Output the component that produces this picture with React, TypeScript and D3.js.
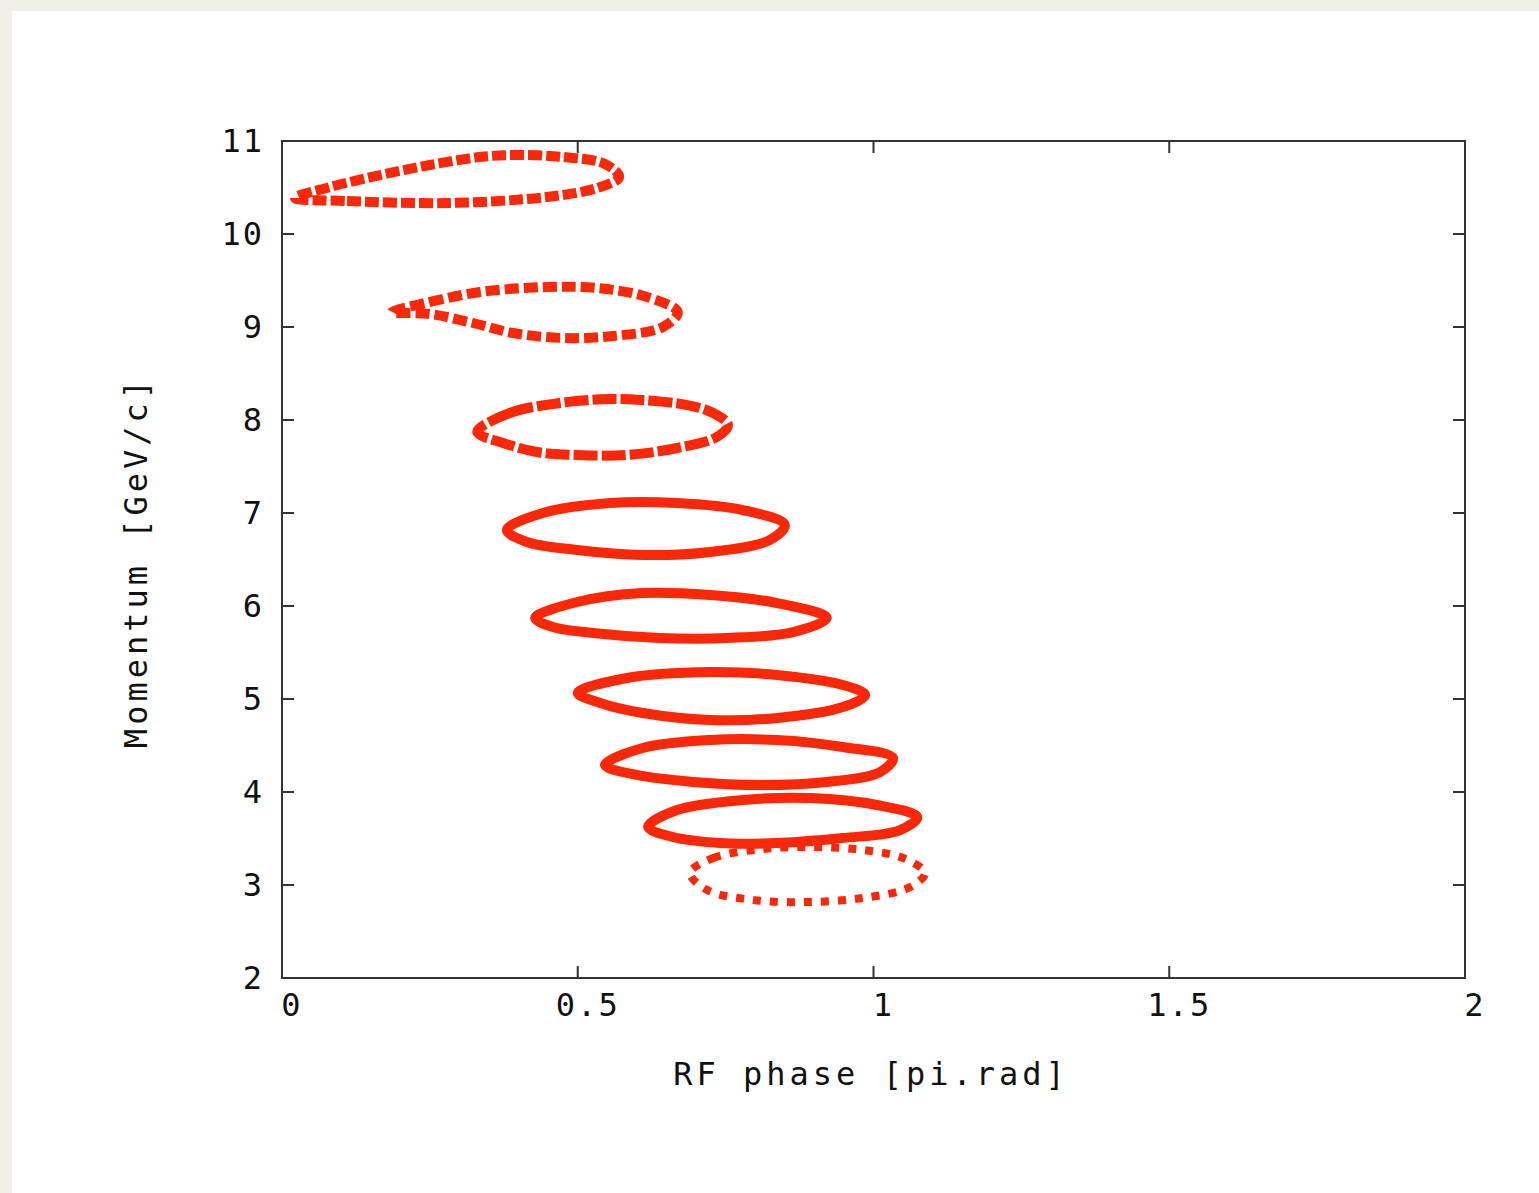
import React from "react";
import * as d3 from "d3";

// Longitudinal phase-space contours: [RF phase (pi.rad), momentum (GeV/c)]
const ring1: [number, number][] = [
  [0.022, 10.387], [0.110, 10.355], [0.279, 10.333], [0.448, 10.398], [0.533, 10.495],
  [0.570, 10.613], [0.546, 10.753], [0.475, 10.828], [0.391, 10.849], [0.335, 10.828],
  [0.250, 10.742], [0.166, 10.634], [0.081, 10.505],
];
const ring2: [number, number][] = [
  [0.186, 9.161], [0.250, 9.269], [0.335, 9.376], [0.448, 9.430], [0.533, 9.419],
  [0.617, 9.323], [0.669, 9.161], [0.644, 9.000], [0.560, 8.903], [0.475, 8.882],
  [0.391, 8.935], [0.323, 9.043], [0.250, 9.140],
];
const ring3: [number, number][] = [
  [0.330, 7.871], [0.385, 8.075], [0.470, 8.183], [0.555, 8.226], [0.610, 8.215],
  [0.685, 8.161], [0.729, 8.075], [0.754, 7.946], [0.735, 7.817], [0.668, 7.699],
  [0.583, 7.624], [0.499, 7.624], [0.431, 7.656], [0.374, 7.753],
];
const ring4: [number, number][] = [
  [0.380, 6.817], [0.441, 7.000], [0.555, 7.108], [0.668, 7.108], [0.779, 7.032],
  [0.850, 6.871], [0.825, 6.710], [0.724, 6.581], [0.610, 6.548], [0.499, 6.602],
  [0.414, 6.688],
];
const ring5: [number, number][] = [
  [0.428, 5.871], [0.499, 6.043], [0.610, 6.140], [0.724, 6.118], [0.837, 6.032],
  [0.921, 5.871], [0.864, 5.720], [0.752, 5.656], [0.639, 5.656], [0.526, 5.710],
  [0.458, 5.774],
];
const ring6: [number, number][] = [
  [0.500, 5.065], [0.583, 5.226], [0.724, 5.290], [0.837, 5.258], [0.948, 5.151],
  [0.986, 5.043], [0.948, 4.914], [0.837, 4.796], [0.724, 4.774], [0.610, 4.849],
  [0.538, 4.957],
];
const ring7: [number, number][] = [
  [0.546, 4.290], [0.610, 4.473], [0.724, 4.559], [0.837, 4.559], [0.948, 4.484],
  [1.033, 4.366], [1.011, 4.215], [0.921, 4.108], [0.808, 4.075], [0.695, 4.108],
  [0.600, 4.183],
];
const ring8: [number, number][] = [
  [0.619, 3.624], [0.668, 3.806], [0.779, 3.914], [0.893, 3.935], [1.006, 3.860],
  [1.074, 3.731], [1.045, 3.591], [0.948, 3.505], [0.837, 3.452], [0.740, 3.452],
  [0.661, 3.516],
];
const ring9: [number, number][] = [
  [0.690, 3.129], [0.729, 3.290], [0.813, 3.387], [0.898, 3.409], [0.982, 3.376],
  [1.050, 3.290], [1.087, 3.129], [1.062, 2.978], [0.982, 2.860], [0.888, 2.817],
  [0.796, 2.839], [0.719, 2.946],
];

const rings = [ring1, ring2, ring3, ring4, ring5, ring6, ring7, ring8, ring9];
const ringDash = ["14 4", "14 5", "24 4", "none", "none", "none", "none", "none", "8 9"];
const ringWidth = [10, 10, 10, 10, 10, 10, 10, 10, 8];

const xTicks = [0, 0.5, 1, 1.5, 2];
const xTickLabels = ["0", "0.5", "1", "1.5", "2"];
const yTicks = [2, 3, 4, 5, 6, 7, 8, 9, 10, 11];
const yTickLabels = ["2", "3", "4", "5", "6", "7", "8", "9", "10", "11"];

const W = 1539;
const H = 1193;
const plot = { left: 282, top: 141, right: 1465, bottom: 978 };
const RED = "#fa2808";
const FONT = "'DejaVu Sans Mono', 'Liberation Mono', monospace";

export default function App() {
  const x = d3.scaleLinear().domain([0, 2]).range([plot.left, plot.right]);
  const y = d3.scaleLinear().domain([2, 11]).range([plot.bottom, plot.top]);
  const line = d3
    .line<[number, number]>()
    .x((d) => x(d[0]))
    .y((d) => y(d[1]))
    .curve(d3.curveCatmullRomClosed.alpha(0.5));
  const tick = 12;

  return (
    <svg
      width={W}
      height={H}
      style={{ position: "absolute", left: 0, top: 0, display: "block" }}
    >
      <rect x={0} y={0} width={W} height={H} fill="#f2efe9" />
      <rect x={12} y={11} width={W - 12} height={H - 11} fill="#ffffff" />

      {/* contours */}
      <g fill="none" stroke={RED}>
        {rings.map((r, i) => (
          <path
            key={i}
            d={line(r) ?? ""}
            strokeWidth={ringWidth[i]}
            strokeDasharray={ringDash[i] === "none" ? undefined : ringDash[i]}
          />
        ))}
      </g>

      {/* frame and ticks */}
      <g stroke="#333" strokeWidth={2} fill="none">
        <rect
          x={plot.left}
          y={plot.top}
          width={plot.right - plot.left}
          height={plot.bottom - plot.top}
        />
        {xTicks.map((t) => (
          <g key={"xt" + t}>
            <line x1={x(t)} x2={x(t)} y1={plot.bottom} y2={plot.bottom - tick} />
            <line x1={x(t)} x2={x(t)} y1={plot.top} y2={plot.top + tick} />
          </g>
        ))}
        {yTicks.map((t) => (
          <g key={"yt" + t}>
            <line x1={plot.left} x2={plot.left + tick} y1={y(t)} y2={y(t)} />
            <line x1={plot.right} x2={plot.right - tick} y1={y(t)} y2={y(t)} />
          </g>
        ))}
      </g>

      <g fontFamily={FONT} fontSize={32} fill="#111">
        {xTicks.map((t, i) => (
          <text
            key={"xl" + t}
            x={x(t) + 10}
            y={plot.bottom + 38}
            textAnchor="middle"
            letterSpacing={2}
          >
            {xTickLabels[i]}
          </text>
        ))}
        {yTicks.map((t, i) => (
          <text
            key={"yl" + t}
            x={plot.left - 18}
            y={y(t)}
            dy="0.35em"
            textAnchor="end"
            letterSpacing={2}
          >
            {yTickLabels[i]}
          </text>
        ))}
        <text x={871} y={1085} textAnchor="middle" letterSpacing={4}>
          RF phase [pi.rad]
        </text>
        <text
          transform={`translate(147,562) rotate(-90)`}
          textAnchor="middle"
          letterSpacing={4}
        >
          Momentum [GeV/c]
        </text>
      </g>
    </svg>
  );
}
